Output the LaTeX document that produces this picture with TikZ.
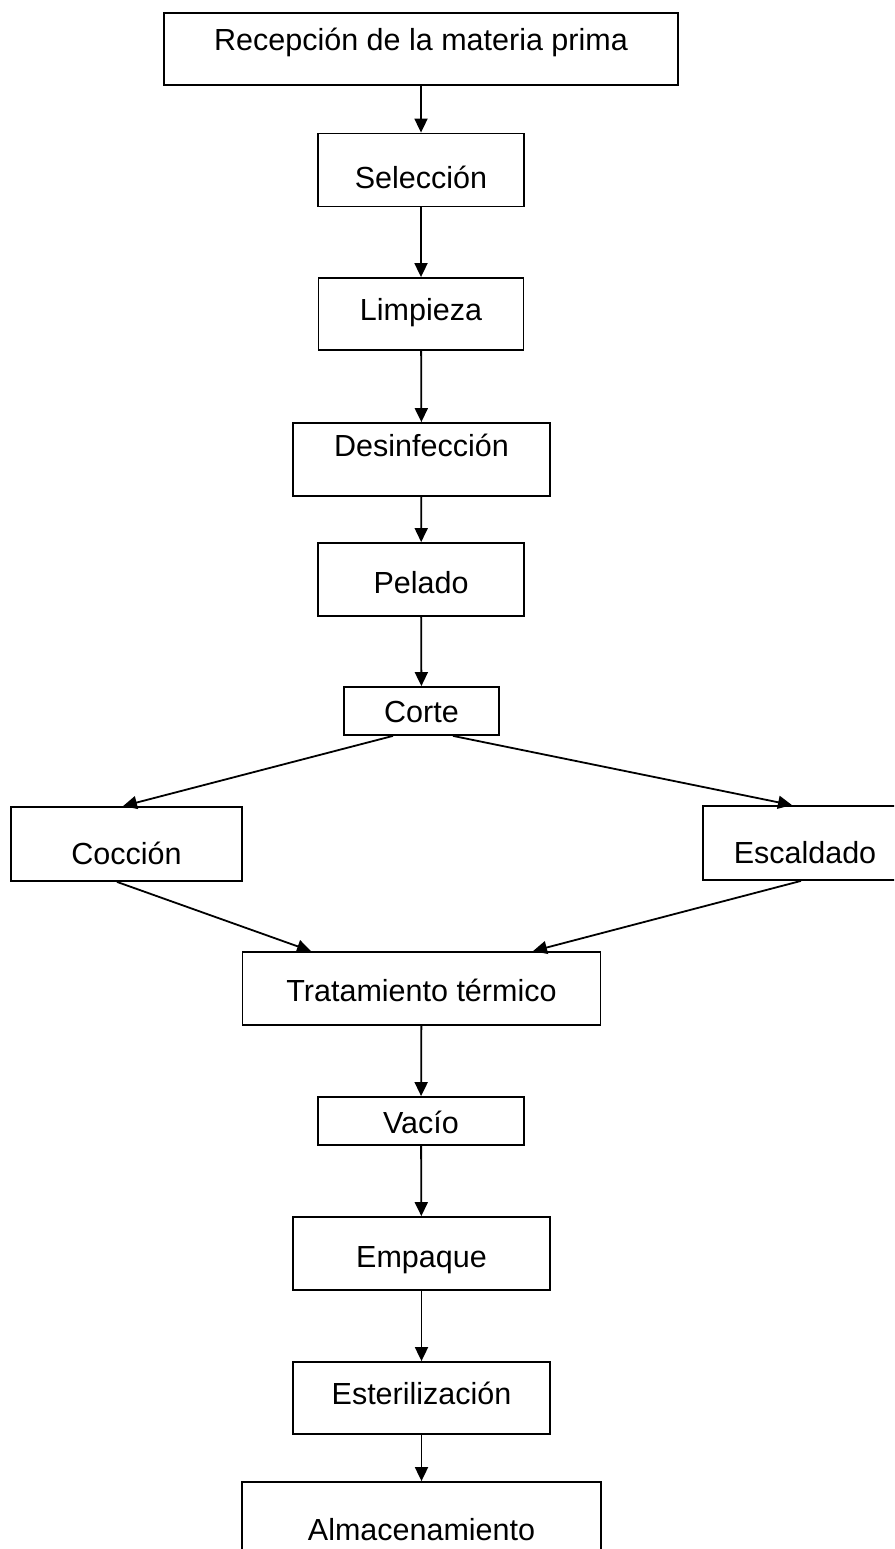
\documentclass[tikz,border=0pt]{standalone}
\usepackage{fontspec}
\setmainfont{Liberation Sans}
\usetikzlibrary{arrows.meta}

\tikzset{
  paso/.style={draw, line width=1.8pt, rectangle, inner sep=0pt},
  texto/.style={font=\fontsize{30.5}{36}\selectfont, inner sep=0pt},
  flecha/.style={line width=1.8pt, -{Triangle[length=14pt, width=13pt]}}
}

\begin{document}
\begin{tikzpicture}[x=1pt, y=-1pt]
        \clip (0,0) rectangle (894,1549);
        % etapas del proceso
        \node [paso, minimum width=514, minimum height=72, label={[texto, yshift=7pt]center:Recepción de la materia prima}] (rec) at (421, 49) {};
        \node [paso, minimum width=206, minimum height=73, label={[texto, yshift=-7pt]center:Selección}] (sel) at (421, 170) {};
        \node [paso, minimum width=205, minimum height=72, label={[texto, yshift=1pt]center:Limpieza}] (lim) at (421, 314) {};
        \node [paso, minimum width=257, minimum height=73, label={[texto, yshift=14pt]center:Desinfección}] (des) at (421.5, 459.5) {};
        \node [paso, minimum width=206, minimum height=73, label={[texto, yshift=-3.5pt]center:Pelado}] (pel) at (421, 579.5) {};
        \node [paso, minimum width=155, minimum height=48, label={[texto, yshift=-1pt]center:Corte}] (cor) at (421.5, 711) {};
        \node [paso, minimum width=231, minimum height=74, label={[texto, yshift=-9pt]center:Cocción}] (coc) at (126.5, 844) {};
        \node [paso, minimum width=204, minimum height=74, label={[texto, yshift=-10pt]center:Escaldado}] (esc) at (805, 843) {};
        \node [paso, minimum width=358, minimum height=73, label={[texto, yshift=-1.5pt]center:Tratamiento térmico}] (tra) at (421.5, 988.5) {};
        \node [paso, minimum width=206, minimum height=48, label={[texto, yshift=-1pt]center:Vacío}] (vac) at (421, 1121) {};
        \node [paso, minimum width=257, minimum height=73, label={[texto, yshift=-6.5pt]center:Empaque}] (emp) at (421.5, 1253.5) {};
        \node [paso, minimum width=257, minimum height=72, label={[texto, yshift=5pt]center:Esterilización}] (est) at (421.5, 1398) {};
        \node [paso, minimum width=359, minimum height=73, label={[texto, yshift=-11.5pt]center:Almacenamiento}] (alm) at (421.5, 1518.5) {};

        % flechas
        \draw [flecha] (rec) -- (sel);
        \draw [flecha] (sel) -- (lim);
        \draw [flecha] (lim) -- (des);
        \draw [flecha] (des) -- (pel);
        \draw [flecha] (pel) -- (cor);
        \draw [flecha] ([xshift=-28.5pt]cor.south) -- ([xshift=-3.5pt]coc.north);
        \draw [flecha] ([xshift=31.5pt]cor.south) -- ([xshift=-13pt]esc.north);
        \draw [flecha] ([xshift=-9.5pt]coc.south) -- ([xshift=-110.5pt]tra.north);
        \draw [flecha] ([xshift=-4pt]esc.south) -- ([xshift=111.5pt]tra.north);
        \draw [flecha] (tra) -- (vac);
        \draw [flecha] (vac) -- (emp);
        \draw [flecha] (emp) -- (est);
        \draw [flecha] (est) -- (alm);
      \end{tikzpicture}
\end{document}
